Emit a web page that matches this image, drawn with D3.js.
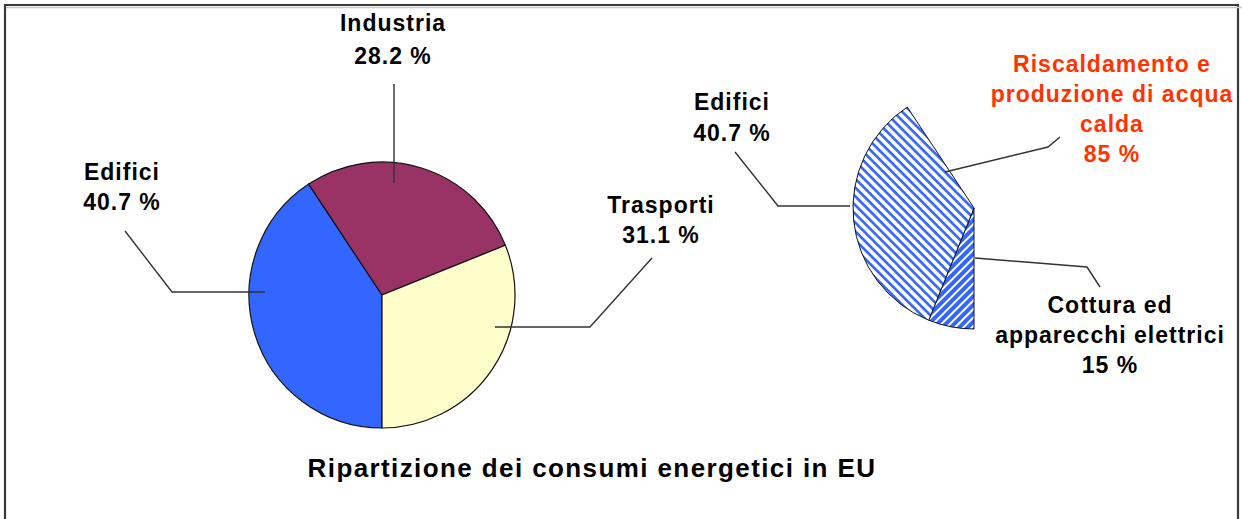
<!DOCTYPE html>
<meta charset="utf-8">
<style>
body{ margin:0; background:#fff; }
svg text{ font-family: "Liberation Sans", Arial, sans-serif; font-weight:bold; }
</style>
<body>
<svg id="chart" width="1242" height="519"></svg>
<script src="https://cdn.jsdelivr.net/npm/d3@7"></script>
<script>

// main pie: EU energy use by sector
var sectors = ['Edifici', 'Industria', 'Trasporti']
var shares = [40.7, 28.2, 31.1]
var sectorColors = ['#3366ff', '#993366', '#ffffcc']

// breakdown of the Edifici share
var uses = ['Cottura ed apparecchi elettrici', 'Riscaldamento e produzione di acqua calda']
var useShares = [15, 85]

var title = 'Ripartizione dei consumi energetici in EU'

var svg = d3.select('#chart')

// frame (bottom edge runs off the page)
svg.append('path')
    .attr('d', 'M5,530 V5 H1238 V530')
    .attr('fill', 'none')
    .attr('stroke', '#3a3a3a')
    .attr('stroke-width', 2.2)
svg.append('line')
    .attr('x1', 6).attr('x2', 1242).attr('y1', 7.5).attr('y2', 7.5)
    .attr('stroke', '#c8c8c8').attr('stroke-width', 1.5)

var defs = svg.append('defs')
defs.append('pattern')
    .attr('id', 'hatchLight')
    .attr('patternUnits', 'userSpaceOnUse')
    .attr('width', 6.2).attr('height', 6.2)
    .attr('patternTransform', 'rotate(45)')
  .call(function(p){
    p.append('rect').attr('width', 6.2).attr('height', 6.2).attr('fill', '#fff')
    p.append('rect').attr('width', 6.2).attr('height', 2.6).attr('fill', '#3366ff')
  })
defs.append('pattern')
    .attr('id', 'hatchDark')
    .attr('patternUnits', 'userSpaceOnUse')
    .attr('width', 6).attr('height', 6)
    .attr('patternTransform', 'rotate(-45)')
  .call(function(p){
    p.append('rect').attr('width', 6).attr('height', 6).attr('fill', '#fff')
    p.append('rect').attr('width', 6).attr('height', 4).attr('fill', '#3366ff')
  })

// left pie
var pie = d3.pie().sort(null).startAngle(Math.PI).endAngle(3 * Math.PI)
var arc = d3.arc().innerRadius(0).outerRadius(133)

svg.append('g')
    .attr('transform', 'translate(382,295)')
  .selectAll('path')
  .data(pie(shares))
  .join('path')
    .attr('d', arc)
    .attr('fill', function(d, i){ return sectorColors[i] })
    .attr('stroke', '#111')
    .attr('stroke-width', 1.2)

// right: only the Edifici wedge, split by use
var edificiAngle = 2 * Math.PI * shares[0] / 100
var pie2 = d3.pie().sort(null).startAngle(Math.PI).endAngle(Math.PI + edificiAngle)
var arc2 = d3.arc().innerRadius(0).outerRadius(121)

svg.append('g')
    .attr('transform', 'translate(974,208)')
  .selectAll('path')
  .data(pie2(useShares))
  .join('path')
    .attr('d', arc2)
    .attr('fill', function(d, i){ return i === 0 ? 'url(#hatchDark)' : 'url(#hatchLight)' })
    .attr('stroke', '#111')
    .attr('stroke-width', 1)

// labels + leader lines
var labels = [
  {lines: [sectors[1], shares[1].toFixed(1) + ' %'], x: 393, y: 31, dy: 33, color: '#000',
   leader: [[394, 84], [394, 183]]},
  {lines: [sectors[0], shares[0].toFixed(1) + ' %'], x: 122, y: 180, dy: 30, color: '#000',
   leader: [[125, 231], [172, 292], [265, 292]]},
  {lines: [sectors[2], shares[2].toFixed(1) + ' %'], x: 661, y: 213, dy: 30, color: '#000',
   leader: [[652, 258], [590, 327], [495, 327]]},
  {lines: [sectors[0], shares[0].toFixed(1) + ' %'], x: 732, y: 110, dy: 31, color: '#000',
   leader: [[735, 152], [778, 206], [850, 206]]},
  {lines: ['Riscaldamento e', 'produzione di acqua', 'calda', useShares[1] + ' %'], x: 1112, y: 72, dy: 30, color: '#ff3300',
   leader: [[945, 172], [1048, 147], [1060, 137]]},
  {lines: ['Cottura ed', 'apparecchi elettrici', useShares[0] + ' %'], x: 1110, y: 313, dy: 30, color: '#000',
   leader: [[975, 258], [1087, 267], [1100, 287]]}
]

var line = d3.line()
labels.forEach(function(l){
  svg.append('path')
      .attr('d', line(l.leader))
      .attr('fill', 'none')
      .attr('stroke', '#333')
      .attr('stroke-width', 1.4)

  svg.append('text')
      .attr('text-anchor', 'middle')
      .attr('font-size', 23)
      .attr('letter-spacing', 1)
      .attr('fill', l.color)
    .selectAll('tspan')
    .data(l.lines)
    .join('tspan')
      .attr('x', l.x)
      .attr('y', function(d, i){ return l.y + i * l.dy })
      .text(function(d){ return d })
})

svg.append('text')
    .attr('x', 592)
    .attr('y', 477)
    .attr('text-anchor', 'middle')
    .attr('font-size', 26)
    .attr('letter-spacing', 1.4)
    .text(title)

</script>
</body>
